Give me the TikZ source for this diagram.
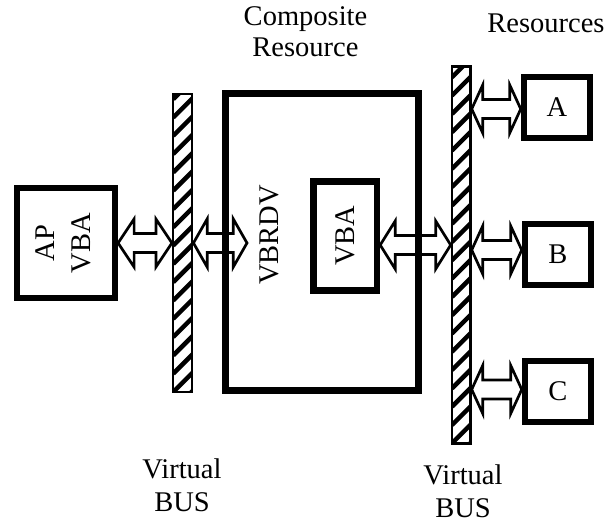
\documentclass[tikz,border=0pt]{standalone}
\usepackage{fontspec}
\setmainfont{Liberation Serif}
\usetikzlibrary{calc}

\begin{document}
\begin{tikzpicture}[
    x=1pt, y=-1pt,
    font=\fontsize{28.5}{33}\selectfont,
    thickbox/.style={draw, line width=6.5pt, inner sep=0pt},
    vbus/.style={draw, line width=2.5pt, inner sep=0pt,
        path picture={
            \foreach \k in {-2,...,24}
                \draw[line width=4.5pt]
                    ([yshift=\k*18.3pt]path picture bounding box.south west)
                    -- ++(45:40pt);
        }},
    busarrow/.style={line width=2.7pt, to path={
        let \p1=(\tikztostart), \p2=(\tikztotarget) in
        (\p1) -- (\x1+#1,\y1+24pt) -- (\x1+#1,\y1+9.5pt) -- (\x2-#1,\y1+9.5pt)
        -- (\x2-#1,\y1+24pt) -- (\x2,\y1) -- (\x2-#1,\y1-24pt) -- (\x2-#1,\y1-9.5pt)
        -- (\x1+#1,\y1-9.5pt) -- (\x1+#1,\y1-24pt) -- cycle}},
    busarrow/.default=15pt,
    note/.style={align=center, anchor=base, inner sep=0.5pt},
]
\useasboundingbox (0,0) rectangle (614,521);

% ===================== TITLES =====================
% (base anchor = baseline of the last line)
\node[note] (comptitle) at (305.5, 56.7) {Composite\\[-1.5pt]Resource};
\node[note] (restitle) at (546, 33) {Resources};

% ===================== APPLICATION =====================
\node[thickbox, minimum width=97.7pt, minimum height=110pt] (ap) at (66, 243)
    {\rotatebox{90}{\begin{tabular}{@{}c@{}}AP\\[3pt]VBA\end{tabular}}};

% ===================== VIRTUAL BUSES =====================
\node[vbus, minimum width=19pt, minimum height=298pt] (lbus) at (182.7, 243) {};
\node[vbus, minimum width=18.5pt, minimum height=377pt] (rbus) at (461.2, 254.8) {};

\node[note] (lbusname) at (182, 511.7) {Virtual\\BUS};
\node[note] (rbusname) at (463, 517.5) {Virtual\\BUS};

% ===================== COMPOSITE RESOURCE =====================
\node[thickbox, minimum width=193pt, minimum height=297pt] (comp) at (322, 242) {};
\node[rotate=90] (vbrdv) at (269, 235) {VBRDV};
\node[thickbox, minimum width=63.3pt, minimum height=109pt] (vba) at (345.3, 235.8)
    {\rotatebox{90}{VBA}};

% ===================== RESOURCES =====================
\foreach \r/\x/\y/\dy in {A/557/107.3/-1.7pt, B/558/254.3/4.3pt, C/558/391.7/2.2pt} {
    \node[thickbox, minimum width=66pt, minimum height=61pt] (res\r) at (\x, \y) {\r};
    \coordinate (in\r) at ([yshift=\dy]res\r.west);
    \coordinate (out\r) at (in\r -| rbus.east);
    \draw[busarrow=11pt] (out\r) to (in\r);
}

% ===================== BUS ARROWS =====================
\coordinate (vbrdvin) at (247, 243);
\coordinate (vbaout) at ([yshift=-9.2pt]vba.east);

\draw[busarrow=16pt] (ap.east) to (ap.east -| lbus.west);
\draw[busarrow=13.7pt] (ap.east -| lbus.east) to (vbrdvin);
\draw[busarrow] (vbaout) to (vbaout -| rbus.west);

\end{tikzpicture}
\end{document}
